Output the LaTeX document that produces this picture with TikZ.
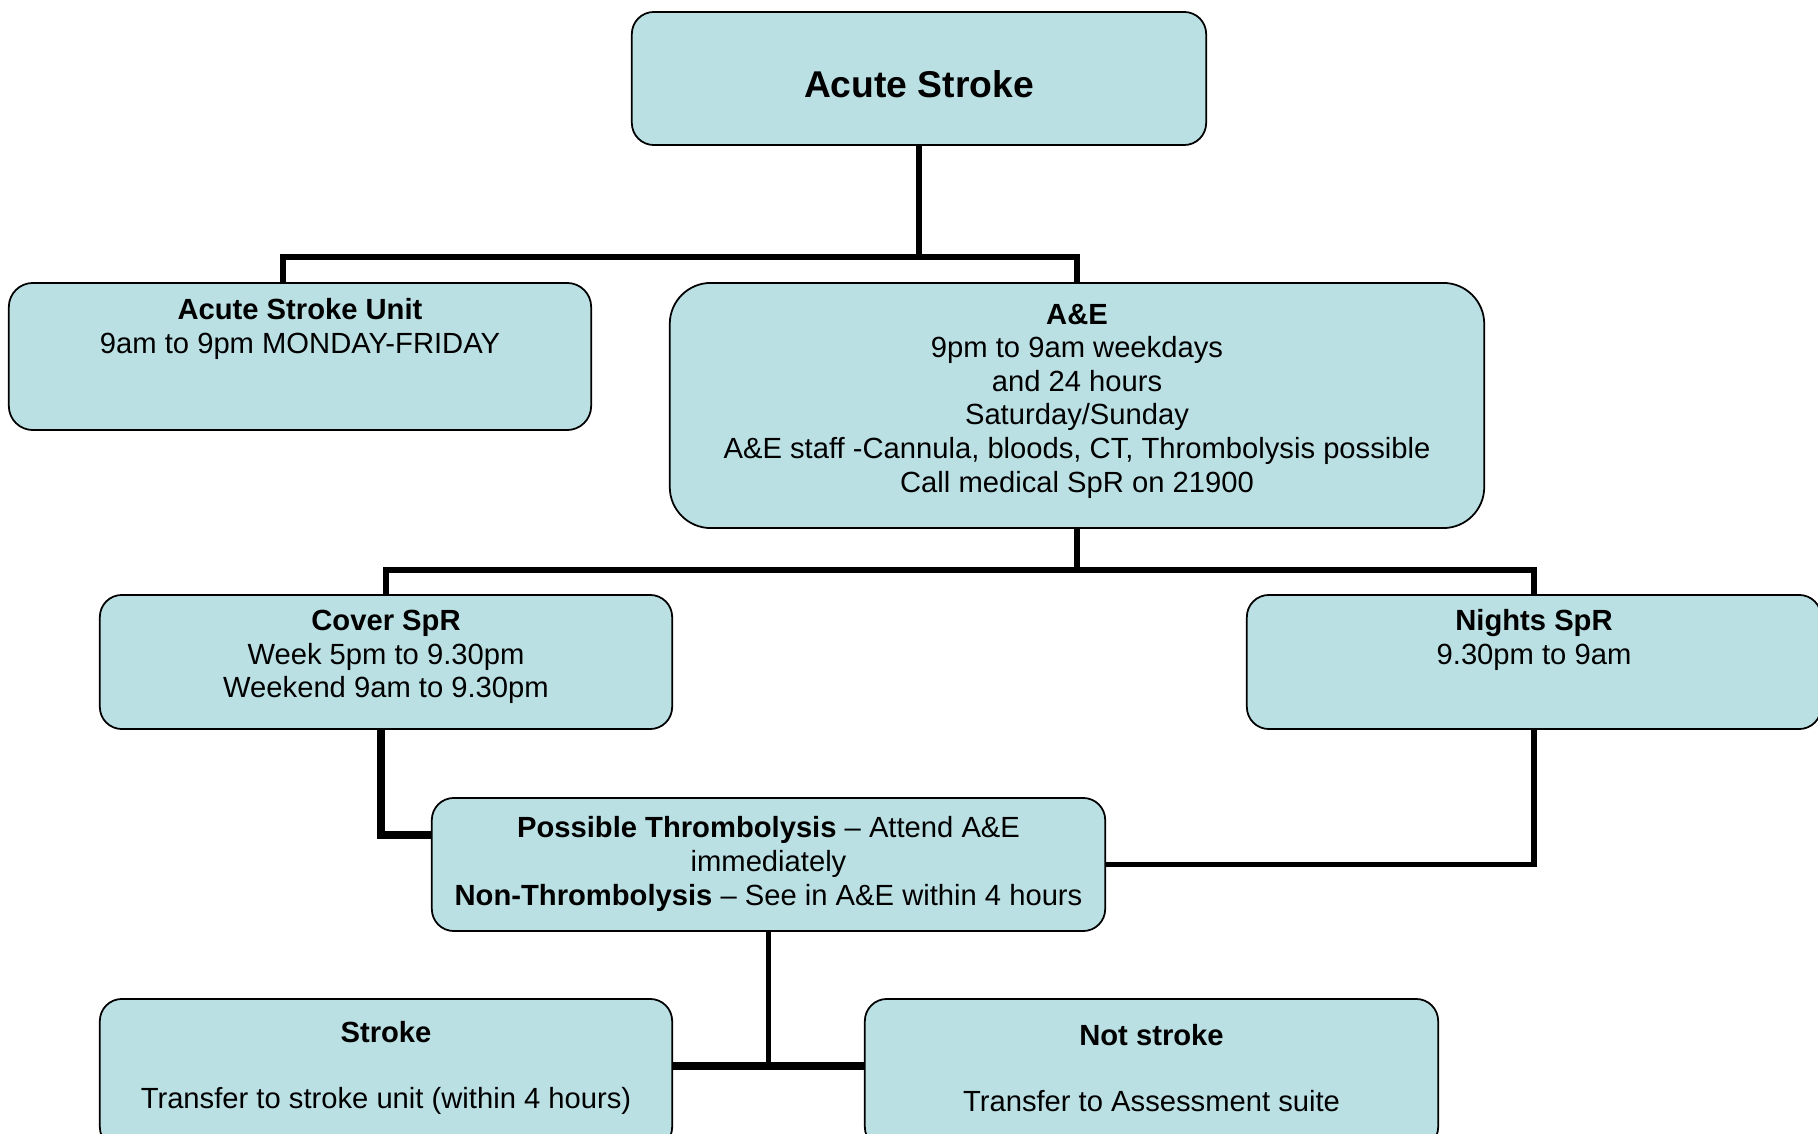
\documentclass[tikz,border=0pt]{standalone}
\usepackage{fontspec}
\setmainfont{Liberation Sans}
\usetikzlibrary{positioning,calc}
\definecolor{boxfill}{RGB}{186,224,228}

\begin{document}
\begin{tikzpicture}[x=0.01cm, y=-0.01cm,
    box/.style={draw, fill=boxfill, line width=0.5pt, rectangle, inner sep=0pt},
    txt/.style={align=center, inner sep=0pt, font=\fontsize{8.3}{9.56}\selectfont},
    link/.style={line width=1.6pt},
    thicklink/.style={line width=2.3pt}]
    \useasboundingbox (0,0) rectangle (1818,1134);

    % boxes
    \node[box, minimum width=5.74cm, minimum height=1.33cm, rounded corners=0.22cm] (acute) at (919,78.5) {};
    \node[box, minimum width=5.82cm, minimum height=1.47cm, rounded corners=0.24cm] (asu) at (300,356.5) {};
    \node[box, minimum width=8.14cm, minimum height=2.45cm, rounded corners=0.41cm] (ae) at (1077,405.5) {};
    \node[box, minimum width=5.72cm, minimum height=1.34cm, rounded corners=0.22cm] (cover) at (386,662) {};
    \node[box, minimum width=5.74cm, minimum height=1.34cm, rounded corners=0.22cm] (nights) at (1534,662) {};
    \node[box, minimum width=6.73cm, minimum height=1.33cm, rounded corners=0.22cm] (mid) at (768.5,864.5) {};
    \node[box, minimum width=5.72cm, minimum height=1.50cm, rounded corners=0.22cm] (stroke) at (386,1074) {};
    \node[box, minimum width=5.73cm, minimum height=1.50cm, rounded corners=0.22cm] (notstroke) at (1151.5,1074) {};

    % texts
    \node[txt, font=\fontsize{10.6}{12}\selectfont\bfseries] (acutet) at (919,84) {Acute Stroke};
    \node[txt] (asut) at (300,329) {\textbf{Acute Stroke Unit}\\9am to 9pm MONDAY-FRIDAY};
    \node[txt] (aet) at (1077,401) {\textbf{A\&E}\\9pm to 9am weekdays\\and 24 hours\\Saturday/Sunday\\A\&E staff -Cannula, bloods, CT, Thrombolysis possible\\Call medical SpR on 21900};
    \node[txt] (covert) at (386,657) {\textbf{Cover SpR}\\Week 5pm to 9.30pm\\Weekend 9am to 9.30pm};
    \node[txt] (nightst) at (1534,640) {\textbf{Nights SpR}\\9.30pm to 9am};
    \node[txt] (midt) at (768.5,864) {\textbf{Possible Thrombolysis} \textendash{} Attend A\&E\\immediately\\\textbf{Non-Thrombolysis} \textendash{} See in A\&E within 4 hours};
    \node[txt] (stroket) at (386,1068) {\textbf{Stroke}\\[9pt]Transfer to stroke unit (within 4 hours)};
    \node[txt] (notstroket) at (1151.5,1068) {\textbf{Not stroke}\\[9pt]Transfer to Assessment suite};

    % connectors
    \coordinate (j1) at (919,257);
    \coordinate (j2) at (1077,570);
    \coordinate (j3) at (768.5,1066);
    \draw[link] (acute.south) -- (j1);
    \draw[link] (j1) -| ([xshift=-0.17cm]asu.north);
    \draw[link] (j1) -| (ae.north);
    \draw[link] (ae.south) -- (j2);
    \draw[link] (j2) -| (cover.north);
    \draw[link] (j2) -| (nights.north);
    \draw[thicklink] ([xshift=-0.05cm]cover.south) |- ([yshift=0.295cm]mid.west);
    \draw[link] (nights.south) |- (mid.east);
    \draw[link] (mid.south) -- (j3);
    \draw[thicklink] (stroke.east |- j3) -- (notstroke.west |- j3);
\end{tikzpicture}
\end{document}
